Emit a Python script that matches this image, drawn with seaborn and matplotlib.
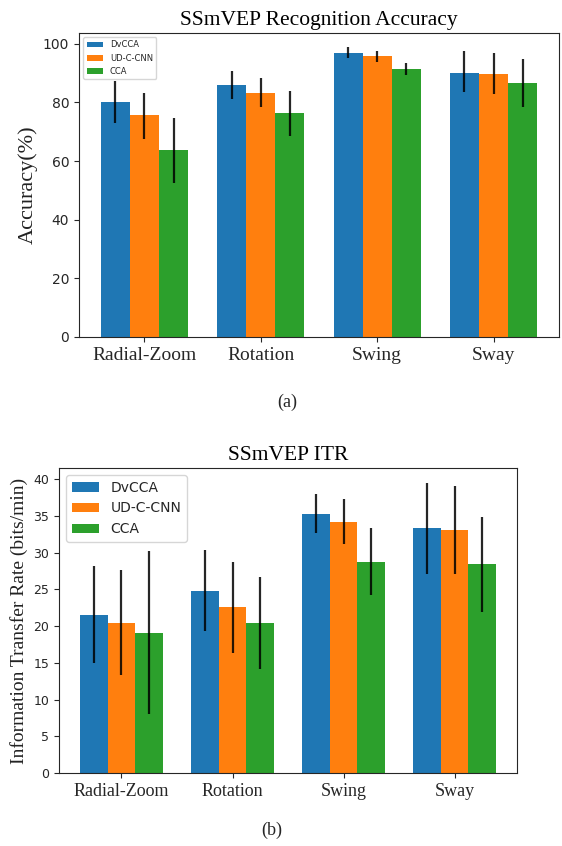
import pandas as pd
import matplotlib
matplotlib.use("Agg")
import matplotlib.pyplot as plt
import seaborn as sns

# Datos
motions = ["Radial-Zoom", "Rotation", "Swing", "Sway"]
methods = ["DvCCA", "UD-C-CNN", "CCA"]
colors = ["#1f77b4", "#ff7f0e", "#2ca02c"]

# (a) Precisión (%)
acc_dvcca = [80.1, 86.1, 96.9, 90.1]
acc_udccnn = [75.6, 83.3, 95.7, 89.8]
acc_cca = [63.9, 76.5, 91.5, 86.6]
acc_lo_dvcca = [72.9, 81.1, 95.2, 83.4]
acc_hi_dvcca = [87.3, 90.7, 98.8, 97.5]
acc_lo_udccnn = [67.6, 78.4, 93.9, 83.0]
acc_hi_udccnn = [83.2, 88.3, 97.5, 96.9]
acc_lo_cca = [52.5, 68.7, 89.4, 78.4]
acc_hi_cca = [74.6, 83.8, 93.4, 94.7]

# (b) ITR (bits/min)
itr_dvcca = [21.5, 24.7, 35.3, 33.3]
itr_udccnn = [20.4, 22.6, 34.2, 33.1]
itr_cca = [19.1, 20.4, 28.7, 28.4]
itr_lo_dvcca = [15.0, 19.3, 32.6, 27.1]
itr_hi_dvcca = [28.2, 30.4, 37.9, 39.4]
itr_lo_udccnn = [13.3, 16.3, 31.1, 27.1]
itr_hi_udccnn = [27.6, 28.7, 37.3, 39.1]
itr_lo_cca = [8.0, 14.2, 24.2, 21.9]
itr_hi_cca = [30.2, 26.7, 33.3, 34.9]


def tabla(vals, los, his):
    filas = []
    for m, v, lo, hi in zip(methods, vals, los, his):
        for mot, a, b, c in zip(motions, v, lo, hi):
            filas.append({"motion": mot, "method": m, "value": a, "lo": b, "hi": c})
    return pd.DataFrame(filas)


df_acc = tabla([acc_dvcca, acc_udccnn, acc_cca],
               [acc_lo_dvcca, acc_lo_udccnn, acc_lo_cca],
               [acc_hi_dvcca, acc_hi_udccnn, acc_hi_cca])
df_itr = tabla([itr_dvcca, itr_udccnn, itr_cca],
               [itr_lo_dvcca, itr_lo_udccnn, itr_lo_cca],
               [itr_hi_dvcca, itr_hi_udccnn, itr_hi_cca])

sns.set_style("ticks")
plt.rcParams["font.family"] = ["DejaVu Sans"]
serif = ["Liberation Serif", "DejaVu Serif"]

fig = plt.figure(figsize=(5.62, 8.46), dpi=100)
ax1 = fig.add_axes([0.1406, 0.6017, 0.854, 0.3593])
ax2 = fig.add_axes([0.105, 0.0863, 0.815, 0.3605])


def dibujar(ax, df, ylabel, title, ytick_fs, xtick_fs, leg_fs, ylabel_fs):
    sns.barplot(data=df, x="motion", y="value", hue="method", order=motions,
                hue_order=methods, palette=colors, errorbar=None, width=0.75,
                saturation=1, linewidth=0, ax=ax)
    # barras de error (asimétricas) en el centro de cada barra
    for cont, m in zip(ax.containers, methods):
        sub = df[df["method"] == m].set_index("motion").loc[motions]
        xs = [b.get_x() + b.get_width() / 2 for b in cont]
        ax.vlines(xs, sub["lo"].values, sub["hi"].values, color="black",
                  linewidth=1.6, alpha=0.85, zorder=3)
    ax.set_xlim(-0.5625, 3.5625)
    ax.set_title(title, fontsize=15.5, family=serif, color="black")
    ax.set_xlabel("")
    ax.set_ylabel(ylabel, fontsize=ylabel_fs, family=serif, color="#222222")
    ax.tick_params(axis="y", labelsize=ytick_fs)
    ax.tick_params(axis="x", labelsize=xtick_fs)
    for t in ax.get_xticklabels():
        t.set_family(serif)
    handles, labels = ax.get_legend_handles_labels()
    ax.legend(handles, labels, loc="upper left", fontsize=leg_fs)


dibujar(ax1, df_acc, "Accuracy(%)", "SSmVEP Recognition Accuracy", 10, 14, 6, 16)
ax1.set_ylim(0, 103.7)
dibujar(ax2, df_itr, "Information Transfer Rate (bits/min)", "SSmVEP ITR", 9, 13, 10, 14)
ax2.set_ylim(0, 41.5)

fig.text(0.511, 1 - 402 / 846, "(a)", ha="center", va="center", fontsize=13, family=serif)
fig.text(0.484, 1 - 830 / 846, "(b)", ha="center", va="center", fontsize=13, family=serif)

plt.savefig("out.png", dpi=100)
plt.close()
